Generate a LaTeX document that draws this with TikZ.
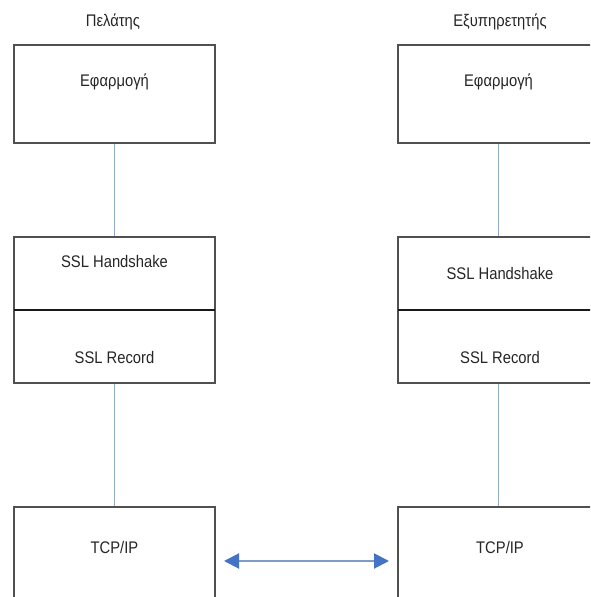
\documentclass[tikz,border=0pt]{standalone}
\usepackage{fontspec}
\setmainfont{Liberation Sans}[FakeStretch=0.88]
\usetikzlibrary{arrows.meta}
\definecolor{boxline}{HTML}{505050}
\definecolor{linkline}{HTML}{8FAAC2}
\definecolor{arrowblue}{HTML}{4472C4}
\definecolor{arrowshaft}{HTML}{7E9CC4}
\tikzset{
  layer/.style={draw=boxline, line width=1.6pt, fill=white, minimum width=201pt, inner sep=0pt},
  txt/.style={font=\fontsize{16.8}{19}\selectfont, text=black!85, inner sep=0pt},
  link/.style={draw=linkline, line width=1.4pt},
  divider/.style={draw=black!90, line width=1.3pt},
  exchange/.style={draw=arrowshaft, line width=2pt,
    {Triangle[length=15pt,width=15pt,fill=arrowblue,color=arrowblue]}-{Triangle[length=15pt,width=15pt,fill=arrowblue,color=arrowblue]}}
}
\begin{document}
\begin{tikzpicture}[x=1pt,y=-1pt]
\useasboundingbox (0,0) rectangle (590,597);
\clip (0,0) rectangle (590,597);
\fill[white] (0,0) rectangle (590,597);

% client stack
\node[layer, minimum height=98pt]  (appL) at (114.5,94) {};
\node[layer, minimum height=146pt] (sslL) at (114.5,310) {};
\node[layer, minimum height=134pt] (tcpL) at (114.5,574) {};
\coordinate (divLw) at (14,310);
\coordinate (divLe) at (215,310);

% server stack
\node[layer, minimum height=98pt]  (appR) at (498.5,94) {};
\node[layer, minimum height=146pt] (sslR) at (498.5,310) {};
\node[layer, minimum height=134pt] (tcpR) at (498.5,574) {};
\coordinate (divRw) at (398,310);
\coordinate (divRe) at (599,310);

% layer separators
\draw[divider] (divLw) -- (divLe);
\draw[divider] (divRw) -- (divRe);

% vertical links between layers
\draw[link] (appL.south) -- (sslL.north);
\draw[link] (sslL.south) -- (tcpL.north);
\draw[link] (appR.south) -- (sslR.north);
\draw[link] (sslR.south) -- (tcpR.north);

% headings
\node[txt] (hL) at (113,22) {Πελάτης};
\node[txt] (hR) at (500,22) {Εξυπηρετητής};

% layer names
\node[txt] (aL) at (114.5,82) {Εφαρμογή};
\node[txt] (aR) at (498.5,82) {Εφαρμογή};
\node[txt] (shL) at (114.5,261) {SSL Handshake};
\node[txt] (shR) at (500,273) {SSL Handshake};
\node[txt] (rcL) at (114.5,357) {SSL Record};
\node[txt] (rcR) at (500,357) {SSL Record};
\node[txt] (tL) at (114.5,547) {TCP/IP};
\node[txt] (tR) at (500,547) {TCP/IP};

% data exchange between hosts
\coordinate (exL) at (215,561);
\coordinate (exR) at (398,561);
\draw[exchange, shorten <=9pt, shorten >=9pt] (exL) -- (exR);
\end{tikzpicture}
\end{document}
